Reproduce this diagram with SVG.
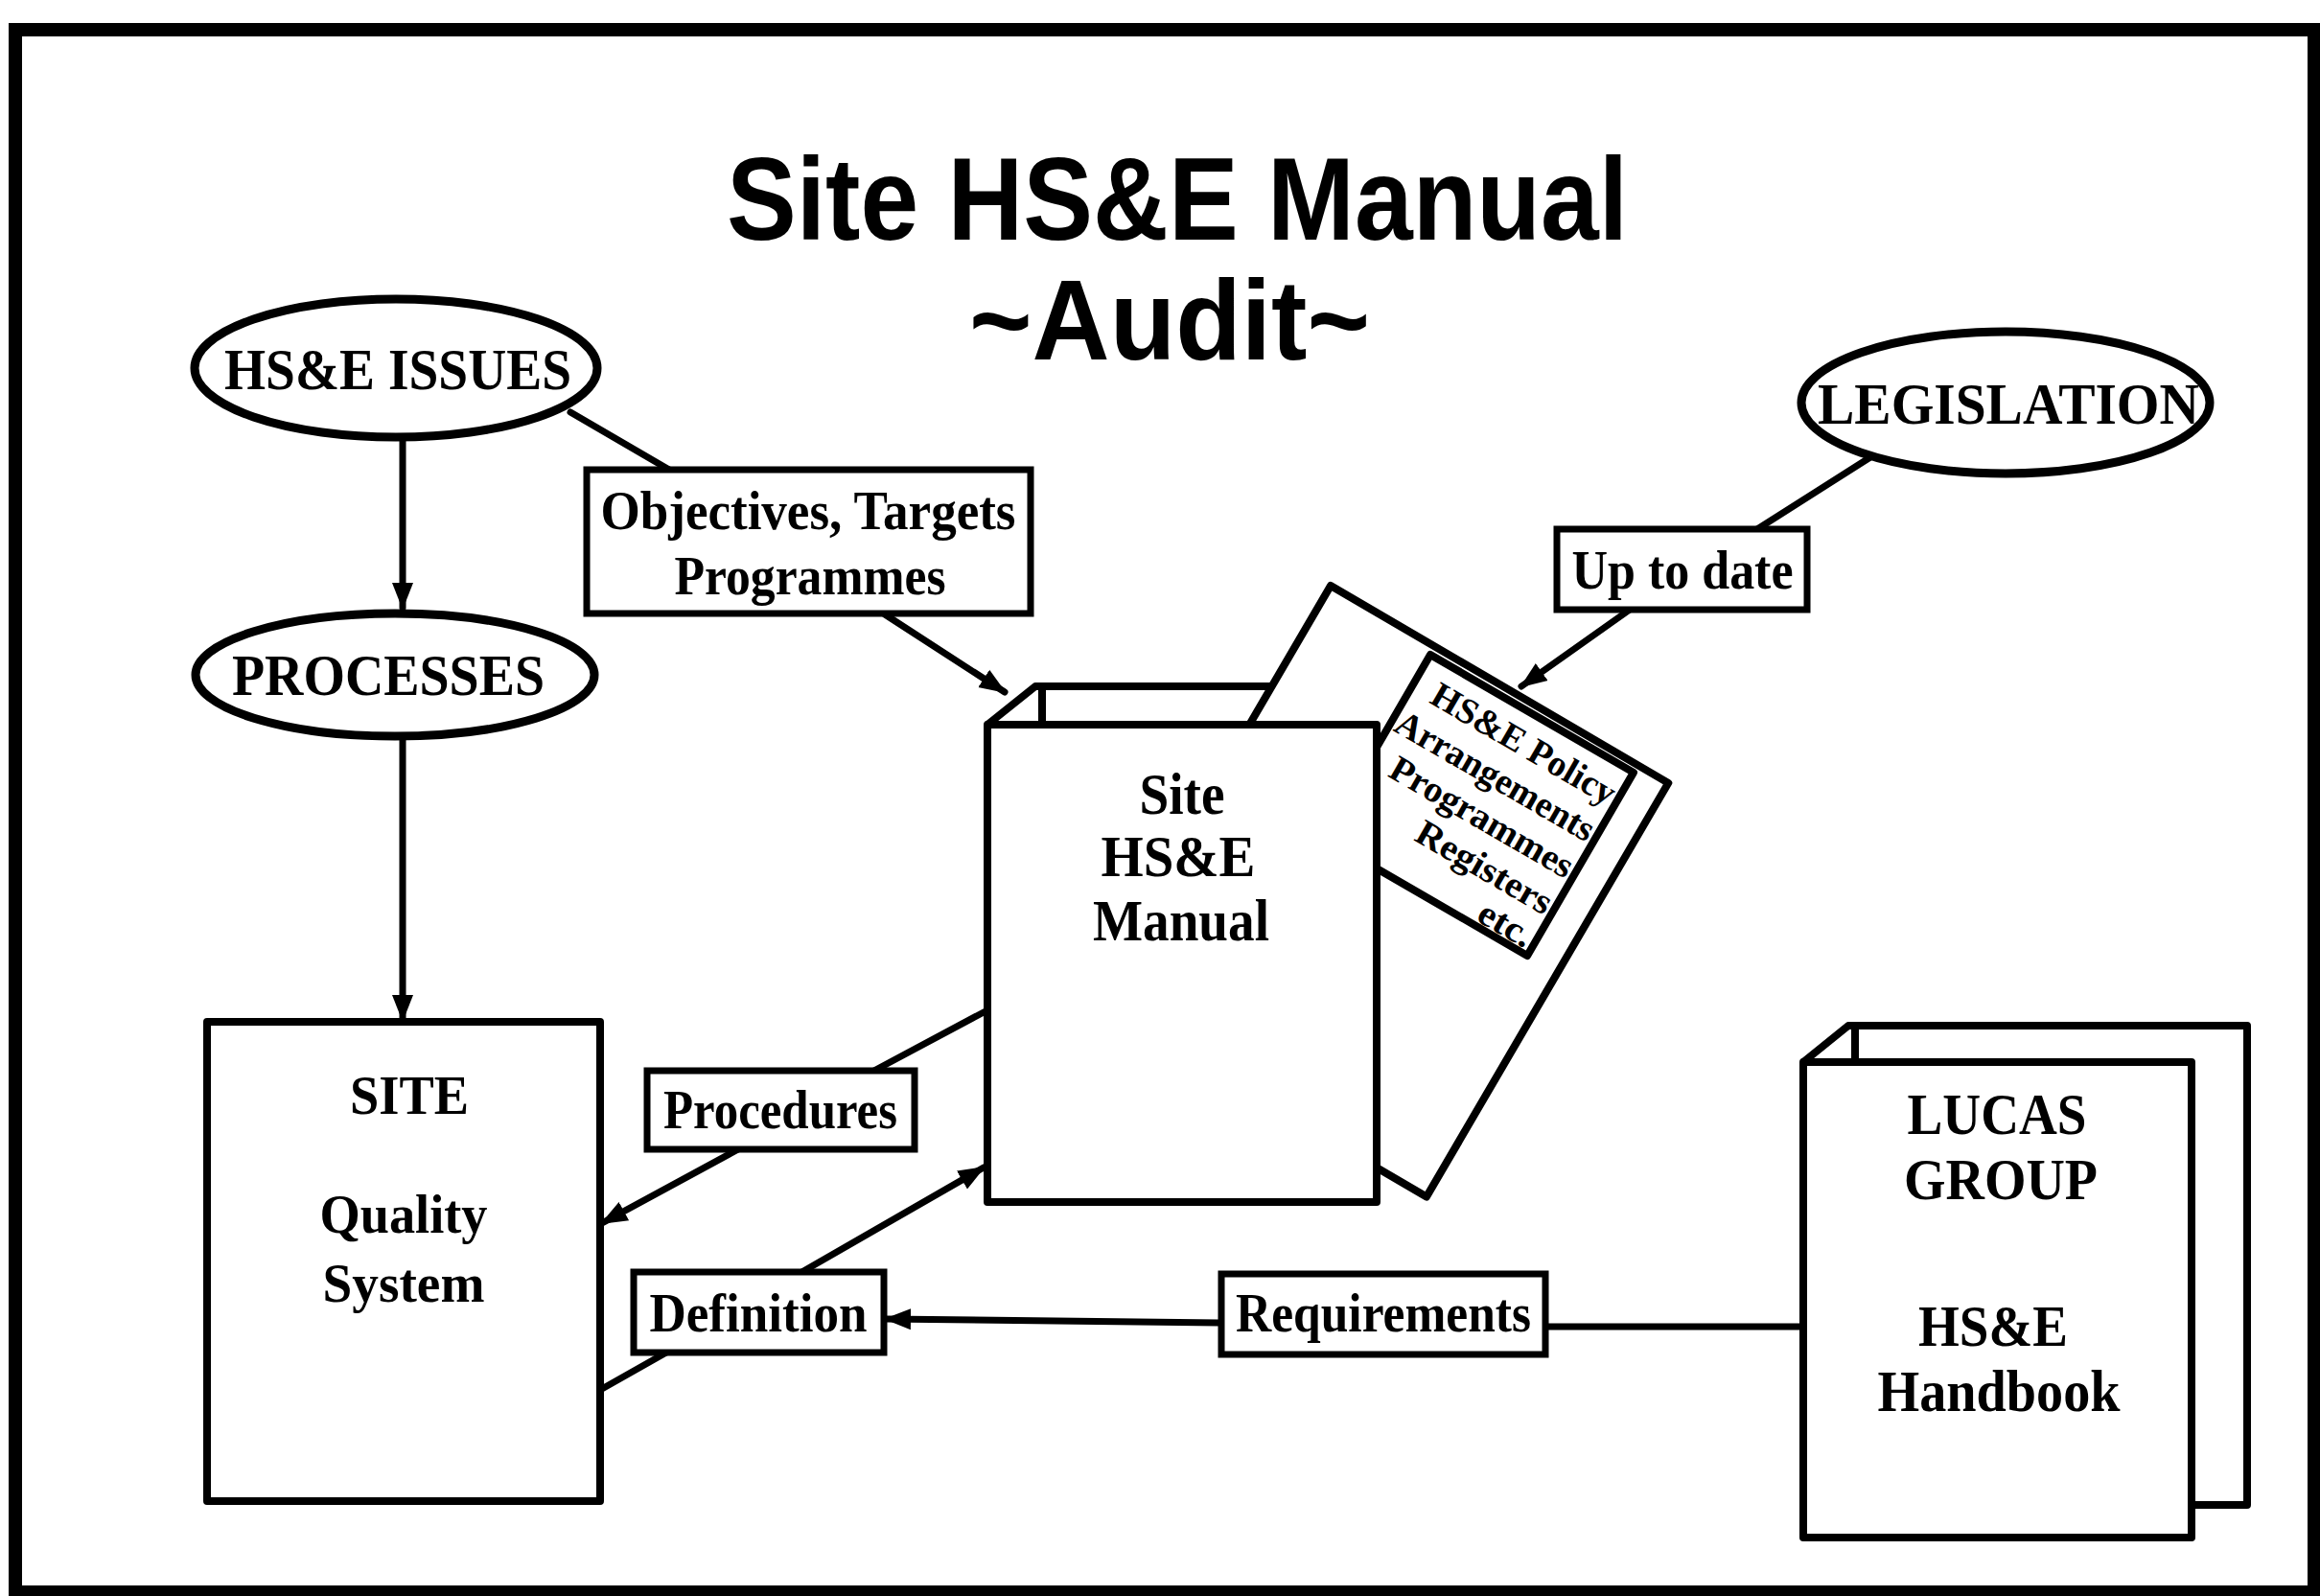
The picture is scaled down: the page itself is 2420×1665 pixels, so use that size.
<svg xmlns="http://www.w3.org/2000/svg" width="2420" height="1665" viewBox="0 0 2420 1665">
  <defs>
    <style>
      .frame { fill: #fff; stroke: #000; stroke-width: 14; }
      .ln { fill: none; stroke: #000; stroke-width: 7; stroke-linecap: round; }
      .box { fill: #fff; stroke: #000; stroke-width: 7; }
      .shape { fill: #fff; stroke: #000; stroke-width: 8; stroke-linejoin: round; }
      .oval { fill: #fff; stroke: #000; stroke-width: 9; }
      .title { font-family: "Liberation Sans", Arial, sans-serif; font-weight: bold; fill: #000; text-anchor: middle; }
      .t { font-family: "Liberation Serif", "Times New Roman", serif; font-weight: bold; fill: #000; text-anchor: middle; }
      .node { font-size: 62px; }
      .lbl { font-size: 57px; }
      .page { font-size: 38px; text-anchor: end; }
    </style>
    <marker id="ah" markerUnits="userSpaceOnUse" markerWidth="30" markerHeight="26" refX="26" refY="13" orient="auto">
      <path d="M0,2 L28,13 L0,24 z" fill="#000"/>
    </marker>
  </defs>

  <!-- page frame -->
  <rect class="frame" x="16" y="31" width="2398" height="1630"/>

  <!-- heading -->
  <g id="heading">
    <text class="title" x="1228" y="250" font-size="122" textLength="940" lengthAdjust="spacingAndGlyphs">Site HS&amp;E Manual</text>
    <text class="title" x="1220" y="375" font-size="118" textLength="418" lengthAdjust="spacingAndGlyphs">~Audit~</text>
  </g>

  <!-- connectors -->
  <g id="connectors">
    <line class="ln" x1="420" y1="460" x2="420" y2="634" marker-end="url(#ah)"/>
    <line class="ln" x1="420" y1="769" x2="420" y2="1064" marker-end="url(#ah)"/>
    <line class="ln" x1="595" y1="430" x2="698" y2="490"/>
    <line class="ln" x1="923" y1="641" x2="1048" y2="722" marker-end="url(#ah)"/>
    <line class="ln" x1="1951" y1="477" x2="1833" y2="552"/>
    <line class="ln" x1="1700" y1="636" x2="1587" y2="716" marker-end="url(#ah)"/>
    <line class="ln" x1="1028" y1="1055" x2="908" y2="1119"/>
    <line class="ln" x1="770" y1="1199" x2="628" y2="1276" marker-end="url(#ah)"/>
    <line class="ln" x1="626" y1="1450" x2="695" y2="1411"/>
    <line class="ln" x1="833" y1="1329" x2="1026" y2="1218" marker-end="url(#ah)"/>
    <line class="ln" x1="1881" y1="1384" x2="1612" y2="1384"/>
    <line class="ln" x1="1274" y1="1380" x2="924" y2="1376" marker-end="url(#ah)"/>
  </g>

  <!-- ovals -->
  <g id="hse-issues">
    <ellipse class="oval" cx="413" cy="384" rx="210" ry="72"/>
    <text class="t node" x="415" y="406" textLength="362" lengthAdjust="spacingAndGlyphs">HS&amp;E ISSUES</text>
  </g>
  <g id="processes">
    <ellipse class="oval" cx="412" cy="704" rx="208" ry="64"/>
    <text class="t node" x="405" y="725" textLength="326" lengthAdjust="spacingAndGlyphs">PROCESSES</text>
  </g>
  <g id="legislation">
    <ellipse class="oval" cx="2092" cy="420" rx="213" ry="74"/>
    <text class="t node" x="2095" y="442" textLength="398" lengthAdjust="spacingAndGlyphs">LEGISLATION</text>
  </g>

  <!-- label boxes -->
  <g id="lbl-objectives">
    <rect class="box" x="612" y="490" width="463" height="150"/>
    <text class="t lbl" x="843" y="552" textLength="433" lengthAdjust="spacingAndGlyphs">Objectives, Targets</text>
    <text class="t lbl" x="845" y="620" textLength="283" lengthAdjust="spacingAndGlyphs">Programmes</text>
  </g>
  <g id="lbl-uptodate">
    <rect class="box" x="1624" y="552" width="261" height="84"/>
    <text class="t lbl" x="1755" y="614" textLength="231" lengthAdjust="spacingAndGlyphs">Up to date</text>
  </g>
  <g id="lbl-procedures">
    <rect class="box" x="675" y="1117" width="279" height="82"/>
    <text class="t lbl" x="814" y="1177" textLength="244" lengthAdjust="spacingAndGlyphs">Procedures</text>
  </g>
  <g id="lbl-definition">
    <rect class="box" x="661" y="1327" width="261" height="84"/>
    <text class="t lbl" x="791" y="1389" textLength="227" lengthAdjust="spacingAndGlyphs">Definition</text>
  </g>
  <g id="lbl-requirements">
    <rect class="box" x="1274" y="1329" width="338" height="84"/>
    <text class="t lbl" x="1443" y="1389" textLength="308" lengthAdjust="spacingAndGlyphs">Requirements</text>
  </g>

  <!-- site quality system -->
  <g id="site">
    <rect class="shape" x="216" y="1066" width="410" height="500"/>
    <text class="t" x="427" y="1162" font-size="58" textLength="124" lengthAdjust="spacingAndGlyphs">SITE</text>
    <text class="t" x="421" y="1286" font-size="56" textLength="175" lengthAdjust="spacingAndGlyphs">Quality</text>
    <text class="t" x="421" y="1358" font-size="56" textLength="169" lengthAdjust="spacingAndGlyphs">System</text>
  </g>

  <!-- site manual binder with inserted documents -->
  <g id="site-manual">
    <rect class="shape" x="1087" y="716" width="403" height="498"/>
    <path class="shape" d="M1030,756 L1080,716 L1087,716"/>
    <g transform="translate(1388,611) rotate(30.3)">
      <rect class="shape" x="0" y="0" width="408" height="500"/>
    </g>
    <g transform="translate(1492,683) rotate(30.1)">
      <rect class="shape" x="0" y="0" width="245" height="221" stroke-width="6"/>
      <text class="t page" x="239" y="44" textLength="216" lengthAdjust="spacingAndGlyphs">HS&amp;E Policy</text>
      <text class="t page" x="239" y="88" textLength="234" lengthAdjust="spacingAndGlyphs">Arrangements</text>
      <text class="t page" x="239" y="132" textLength="215" lengthAdjust="spacingAndGlyphs">Programmes</text>
      <text class="t page" x="239" y="176" textLength="158" lengthAdjust="spacingAndGlyphs">Registers</text>
      <text class="t page" x="239" y="216" textLength="60" lengthAdjust="spacingAndGlyphs">etc.</text>
    </g>
    <rect class="shape" x="1030" y="756" width="406" height="498"/>
    <text class="t node" x="1233" y="849" textLength="89" lengthAdjust="spacingAndGlyphs">Site</text>
    <text class="t node" x="1229" y="914" textLength="161" lengthAdjust="spacingAndGlyphs">HS&amp;E</text>
    <text class="t node" x="1232" y="981" textLength="184" lengthAdjust="spacingAndGlyphs">Manual</text>
  </g>

  <!-- group handbook binder -->
  <g id="lucas-handbook">
    <rect class="shape" x="1935" y="1070" width="409" height="500"/>
    <path class="shape" d="M1881,1108 L1928,1070 L1935,1070"/>
    <rect class="shape" x="1881" y="1108" width="405" height="496"/>
    <text class="t node" x="2083" y="1183" textLength="187" lengthAdjust="spacingAndGlyphs">LUCAS</text>
    <text class="t node" x="2087" y="1251" textLength="202" lengthAdjust="spacingAndGlyphs">GROUP</text>
    <text class="t node" x="2079" y="1404" textLength="156" lengthAdjust="spacingAndGlyphs">HS&amp;E</text>
    <text class="t node" x="2085" y="1472" textLength="253" lengthAdjust="spacingAndGlyphs">Handbook</text>
  </g>
</svg>
